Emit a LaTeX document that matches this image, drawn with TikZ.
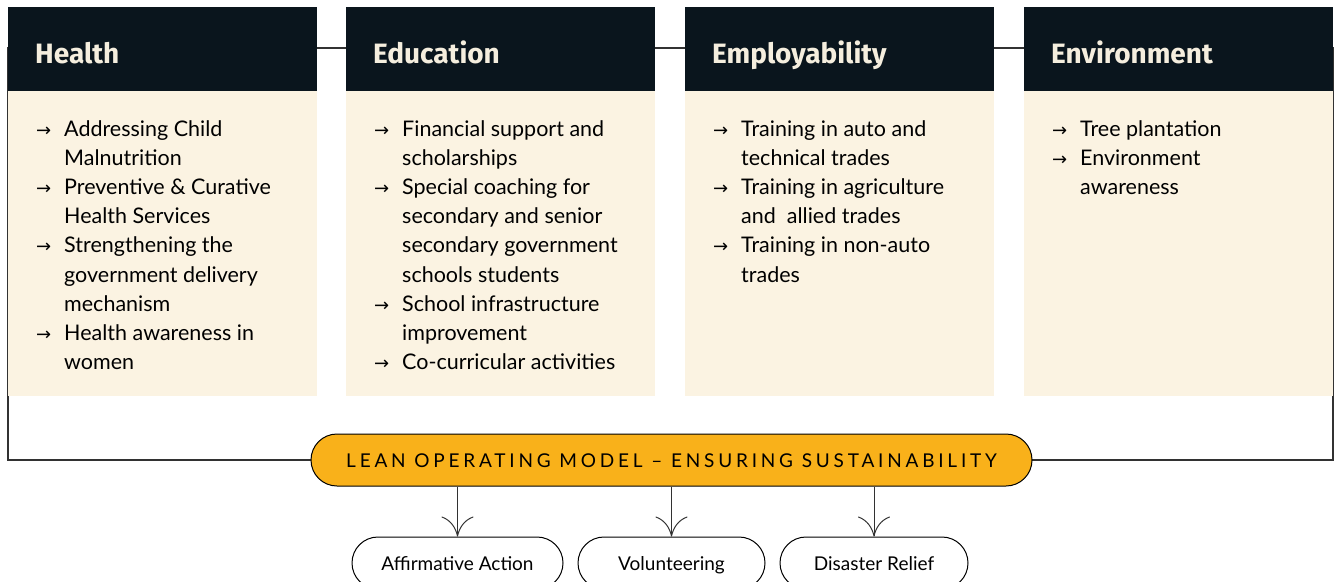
\documentclass[tikz,border=0pt]{standalone}
\usepackage{fontspec}
\setmainfont{Lato}
\newfontfamily\headfont{Fira Sans}
\newfontfamily\trackfont[LetterSpace=20]{Lato}
\newfontfamily\symfont{DejaVu Sans}
\usetikzlibrary{arrows.meta}

\definecolor{navy}{RGB}{10,21,29}
\definecolor{cream}{RGB}{251,243,226}
\definecolor{amber}{RGB}{249,177,26}
\definecolor{ivory}{RGB}{245,238,222}
\definecolor{framegray}{RGB}{50,50,50}

\newcommand{\arr}{{\symfont\fontsize{18}{18}\selectfont →}}
\newcommand{\itemlist}[1]{\begin{tabular}[t]{@{}p{28pt}@{}l@{}}#1\end{tabular}}

\tikzset{
  headbox/.style={fill=navy, minimum width=309pt, minimum height=84pt, anchor=north west, inner sep=0pt},
  bodybox/.style={fill=cream, minimum width=309pt, minimum height=305pt, anchor=north west, inner sep=0pt},
  headtext/.style={text=ivory, font=\headfont\bfseries\fontsize{28}{32}\selectfont, anchor=base west, inner sep=0pt},
  itemtext/.style={anchor=base west, inner sep=0pt, font=\fontsize{21.5}{29.2}\selectfont},
  pillbox/.style={draw=black, line width=1pt, rounded corners=26pt, minimum height=52pt, inner sep=0pt,
    text height=17pt, text depth=2pt},
  downarrow/.style={draw=framegray, line width=1pt, -{Computer Modern Rightarrow[length=20pt,width=32pt]}}
}

\begin{document}
\begin{tikzpicture}[x=1pt,y=1pt,yscale=-1]
\useasboundingbox (0,0) rectangle (1336,581);

%outer frame behind the boxes
\draw [framegray, line width=1.2pt] (8,48) rectangle (1333,460);

%Headers
\node [headbox] (hHealth) at (8,7) {};
\node [headbox] (hEducation) at (346,7) {};
\node [headbox] (hEmploy) at (685,7) {};
\node [headbox] (hEnviron) at (1024,7) {};

%Bodies
\node [bodybox] (bHealth) at (8,91) {};
\node [bodybox] (bEducation) at (346,91) {};
\node [bodybox] (bEmploy) at (685,91) {};
\node [bodybox] (bEnviron) at (1024,91) {};

% Text Node
\node [headtext] (tHealth) at (35,63) {Health};
\node [headtext] (tEducation) at (373,63) {Education};
\node [headtext] (tEmploy) at (712,63) {Employability};
\node [headtext] (tEnviron) at (1051,63) {Environment};

% Text Node
\node [itemtext] (iHealth) at (36,136) {\itemlist{
  \arr & Addressing Child\\
       & Malnutrition\\
  \arr & Preventive \& Curative\\
       & Health Services\\
  \arr & Strengthening the\\
       & government delivery\\
       & mechanism\\
  \arr & Health awareness in\\
       & women}};
\node [itemtext] (iEducation) at (374,136) {\itemlist{
  \arr & Financial support and\\
       & scholarships\\
  \arr & Special coaching for\\
       & secondary and senior\\
       & secondary government\\
       & schools students\\
  \arr & School infrastructure\\
       & improvement\\
  \arr & Co-curricular activities}};
\node [itemtext] (iEmploy) at (713,136) {\itemlist{
  \arr & Training in auto and\\
       & technical trades\\
  \arr & Training in agriculture\\
       & and\ \ allied trades\\
  \arr & Training in non-auto\\
       & trades}};
\node [itemtext] (iEnviron) at (1052,136) {\itemlist{
  \arr & Tree plantation\\
  \arr & Environment\\
       & awareness}};

%Model pill
\node [pillbox, fill=amber, minimum width=721pt, font=\trackfont\fontsize{19}{21}\selectfont] (lean) at (671.5,460)
  {LEAN OPERATING MODEL \textendash{} ENSURING SUSTAINABILITY};

%Bottom pills
\node [pillbox, fill=white, minimum width=211pt, font=\fontsize{19}{21}\selectfont] (affirm) at (457.5,563) {Affirmative Action};
\node [pillbox, fill=white, minimum width=187pt, font=\fontsize{19}{21}\selectfont] (volunteer) at (671.5,563) {Volunteering};
\node [pillbox, fill=white, minimum width=188pt, font=\fontsize{19}{21}\selectfont] (relief) at (874,563) {Disaster Relief};

\draw [downarrow] (lean.south -| affirm.north) -- (affirm.north);
\draw [downarrow] (lean.south -| volunteer.north) -- (volunteer.north);
\draw [downarrow] (lean.south -| relief.north) -- (relief.north);

\end{tikzpicture}
\end{document}
